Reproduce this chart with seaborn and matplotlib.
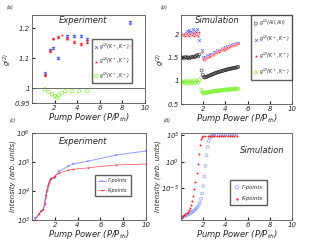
import numpy as np
import pandas as pd
import matplotlib
matplotlib.use("Agg")
import matplotlib.pyplot as plt
import seaborn as sns
from matplotlib.ticker import LogLocator, LogFormatterMathtext, NullLocator

# -- (a) experiment g2 --
exp_x = [1.16, 1.55, 1.85, 2.26, 3.1, 3.7, 4.3, 4.9, 8.7]
g2_mm = [1.049, 1.127, 1.134, 1.102, 1.174, 1.174, 1.174, 1.164, 1.221]
g2_pp = [1.045, 1.125, 1.166, 1.171, 1.166, 1.154, 1.149, 1.156, 1.141]
g2_err = [0.004, 0.004, 0.003, 0.003, 0.003, 0.003, 0.003, 0.004, 0.005]
g2_pp_x = [1.16, 1.55, 1.85, 2.26, 2.65, 3.1, 3.7, 4.3, 4.9, 8.7]
g2_pp_all = [1.045, 1.125, 1.166, 1.171, 1.179, 1.166, 1.154, 1.149, 1.156, 1.141]
g2_pm_x = [1.16, 1.45, 1.76, 2.05, 2.2, 2.35, 2.65, 2.95, 3.55, 4.15, 4.9]
g2_pm = [0.996, 0.988, 0.980, 0.973, 0.969, 0.977, 0.984, 0.990, 0.990, 0.990, 0.990]

# -- (b) simulation g2 --
sim_x = [0.05, 0.15, 0.25, 0.35, 0.45, 0.55, 0.65, 0.75, 0.85, 0.95,
         1.05, 1.15, 1.25, 1.35, 1.45, 1.55, 1.65,
         1.85, 1.95, 2.05, 2.15, 2.25, 2.35, 2.45, 2.55, 2.65, 2.75,
         2.85, 2.95, 3.05, 3.15, 3.25, 3.35, 3.45, 3.55, 3.65, 3.75,
         3.85, 3.95, 4.05, 4.15, 4.25, 4.35, 4.45, 4.55, 4.65, 4.75,
         4.85, 4.95, 5.05, 5.15]
sim_pp = [2.00, 1.98, 2.01, 1.97, 2.00, 2.02, 1.99, 1.96, 2.01, 1.98,
          2.03, 1.97, 2.00, 2.04, 1.99, 1.97, 2.05,
          1.62, 1.47, 1.44, 1.46, 1.48, 1.50, 1.52, 1.51, 1.54, 1.56,
          1.55, 1.58, 1.60, 1.59, 1.62, 1.63, 1.62, 1.65, 1.66, 1.68,
          1.67, 1.70, 1.69, 1.72, 1.71, 1.73, 1.75, 1.74, 1.76, 1.77,
          1.76, 1.78, 1.79, 1.80]
sim_mm = [1.99, 2.00, 1.98, 2.01, 2.02, 2.06, 2.03, 2.08, 2.05, 2.04,
          2.10, 2.03, 2.07, 2.05, 2.12, 2.02, 1.88,
          1.66, 1.50, 1.46, 1.49, 1.50, 1.53, 1.55, 1.53, 1.57, 1.58,
          1.57, 1.61, 1.62, 1.61, 1.65, 1.64, 1.64, 1.67, 1.68, 1.70,
          1.69, 1.72, 1.71, 1.74, 1.72, 1.75, 1.76, 1.76, 1.78, 1.78,
          1.77, 1.80, 1.80, 1.82]
sim_all = [1.49, 1.50, 1.48, 1.50, 1.51, 1.49, 1.50, 1.48, 1.50, 1.51,
           1.50, 1.52, 1.51, 1.53, 1.55, 1.52, 1.56,
           1.22, 1.12, 1.08, 1.07, 1.08, 1.09, 1.10, 1.11, 1.12, 1.13,
           1.14, 1.15, 1.16, 1.17, 1.18, 1.18, 1.19, 1.20, 1.21, 1.21,
           1.22, 1.23, 1.23, 1.24, 1.25, 1.25, 1.26, 1.26, 1.27, 1.27,
           1.28, 1.28, 1.29, 1.30]
sim_pm = [0.97, 0.95, 0.98, 0.96, 0.99, 0.94, 0.97, 1.00, 0.95, 0.98,
          0.96, 1.01, 0.95, 0.98, 1.00, 0.96, 1.02,
          0.80, 0.75, 0.73, 0.74, 0.74, 0.75, 0.75, 0.76, 0.76, 0.77,
          0.77, 0.77, 0.78, 0.78, 0.78, 0.79, 0.79, 0.79, 0.80, 0.80,
          0.80, 0.80, 0.81, 0.81, 0.81, 0.81, 0.82, 0.82, 0.82, 0.82,
          0.82, 0.83, 0.83, 0.83]

# -- (c) experiment intensity (log10) --
int_x = [0.3, 0.6, 0.8, 1.0, 1.1, 1.2, 1.3, 1.4, 1.5, 1.6, 1.7, 1.9, 2.0,
         2.4, 3.2, 3.6, 4.9, 7.4, 10.0]
int_gamma = [3.05, 3.2, 3.3, 3.35, 3.5, 3.75, 3.95, 4.1, 4.25, 4.35, 4.4,
             4.45, 4.5, 4.68, 4.86, 4.93, 5.03, 5.24, 5.38]
int_k = [3.0, 3.2, 3.3, 3.38, 3.6, 3.85, 4.05, 4.2, 4.3, 4.4, 4.45, 4.48,
         4.52, 4.62, 4.72, 4.75, 4.8, 4.9, 4.93]

# -- (d) simulation intensity (log10) --
simk_x = [0.0, 0.1, 0.2, 0.3, 0.4, 0.5, 0.6, 0.7, 0.8, 0.9, 1.0, 1.1, 1.2,
          1.3, 1.4, 1.5, 1.6, 1.7, 1.8, 1.9, 2.0, 2.2, 2.4, 2.6, 2.8, 3.0,
          3.2, 3.4, 3.6, 3.8, 4.0, 4.2, 4.4, 4.6, 4.8, 5.0]
simk_log = [-10.6, -10.4, -10.2, -10.0, -9.9, -9.7, -9.5, -9.2, -8.8, -8.2,
            -7.4, -6.4, -5.2, -3.8, -2.2, -0.4, 1.5, 3.2, 4.3, 4.7, 4.8,
            4.8, 4.8, 4.8, 4.8, 4.8, 4.8, 4.8, 4.8, 4.8, 4.8, 4.8, 4.8,
            4.8, 4.8, 4.8]
simg_x = [0.0, 0.1, 0.2, 0.3, 0.4, 0.5, 0.6, 0.7, 0.8, 0.9, 1.0, 1.1, 1.2,
          1.3, 1.4, 1.5, 1.6, 1.7, 1.8, 1.9, 2.0, 2.1, 2.2, 2.3, 2.4, 2.5,
          2.6, 2.7, 2.8, 2.9, 3.0, 3.2, 3.4, 3.6, 3.8, 4.0, 4.2, 4.4, 4.6,
          4.8, 5.0]
simg_log = [-10.8, -10.6, -10.4, -10.3, -10.2, -10.1, -10.0, -9.9, -9.8,
            -9.65, -9.5, -9.35, -9.2, -9.0, -8.8, -8.5, -8.2, -7.7, -7.0,
            -6.0, -4.6, -2.8, -0.8, 1.2, 2.8, 3.9, 4.5, 4.8, 4.9, 4.95,
            5.0, 5.02, 5.05, 5.07, 5.09, 5.1, 5.12, 5.13, 5.14, 5.15, 5.16]

BLUE = "#4f5bff"
LBLUE = "#8e9cff"
RED = "#ff1f1f"
GREEN = "#86f23a"

sns.set_style("ticks")
plt.rcParams.update({
    "font.family": ["DejaVu Sans"],
    "font.style": "italic",
    "font.size": 5,
    "xtick.direction": "in",
    "ytick.direction": "in",
    "xtick.major.size": 2,
    "ytick.major.size": 2,
    "xtick.labelsize": 5,
    "ytick.labelsize": 5,
    "axes.edgecolor": "#555555",
    "axes.linewidth": 0.6,
    "xtick.major.pad": 1.2,
    "ytick.major.pad": 1.2,
    "mathtext.default": "it",
})

fig = plt.figure(figsize=(3.11, 2.46), dpi=100)
ax_a = fig.add_axes([0.103, 0.581, 0.363, 0.358])
ax_b = fig.add_axes([0.582, 0.577, 0.357, 0.362])
ax_c = fig.add_axes([0.103, 0.106, 0.366, 0.353])
ax_d = fig.add_axes([0.582, 0.106, 0.357, 0.353])

xlab = "Pump Power (P/P$_{th}$)"
leg_kw = dict(frameon=True, fancybox=False, edgecolor="#333333", borderaxespad=0)

# (a)
ax_a.axhline(1.0, color="#555555", lw=0.6)
ax_a.errorbar(exp_x, g2_mm, yerr=g2_err, fmt="none", ecolor=BLUE, elinewidth=0.4, capsize=1.0)
ax_a.errorbar(exp_x, g2_pp, yerr=g2_err, fmt="none", ecolor=RED, elinewidth=0.4, capsize=1.0)
sns.scatterplot(x=exp_x, y=g2_mm, ax=ax_a, marker="x", color=BLUE, s=5, linewidth=0.5,
                label="$g^{(2)}(K^-,K^-)$")
sns.scatterplot(x=g2_pp_x, y=g2_pp_all, ax=ax_a, marker="*", color=RED, s=9, linewidth=0.2,
                label="$g^{(2)}(K^+,K^+)$")
sns.scatterplot(x=g2_pm_x, y=g2_pm, ax=ax_a, marker="o", facecolor="none", edgecolor=GREEN,
                s=7, linewidth=0.5, label="$g^{(2)}(K^+,K^-)$")
ax_a.set_xlim(0, 10)
ax_a.set_ylim(0.95, 1.245)
ax_a.set_xticks([2, 4, 6, 8, 10])
ax_a.set_yticks([0.95, 1.0, 1.1, 1.2])
ax_a.set_yticklabels(["0.95", "1", "1.1", "1.2"])
ax_a.set_xlabel(xlab, fontsize=6, labelpad=0.5)
ax_a.set_ylabel("$g^{(2)}$", fontsize=5, labelpad=0.5)
ax_a.text(4.5, 1.228, "Experiment", ha="center", va="center", fontsize=6)
ax_a.legend(loc="lower left", bbox_to_anchor=(0.53, 0.23), fontsize=3.3, borderpad=0.5,
            handletextpad=0.2, handlelength=0.9, labelspacing=0.9, **leg_kw)

# (b)
sns.scatterplot(x=sim_x, y=sim_all, ax=ax_b, marker="o", facecolor="none", edgecolor="#222222",
                s=5, linewidth=0.4, label="$g^{(2)}(All,All)$")
sns.scatterplot(x=sim_x, y=sim_mm, ax=ax_b, marker="x", color=BLUE, s=4, linewidth=0.5,
                label="$g^{(2)}(K^-,K^-)$")
sns.scatterplot(x=sim_x, y=sim_pp, ax=ax_b, marker="*", color=RED, s=8, linewidth=0.2,
                label="$g^{(2)}(K^+,K^+)$")
sns.scatterplot(x=sim_x, y=sim_pm, ax=ax_b, marker="D", facecolor="none", edgecolor=GREEN,
                s=4, linewidth=0.5, label="$g^{(2)}(K^+,K^-)$")
ax_b.set_xlim(0, 10)
ax_b.set_ylim(0.5, 2.41)
ax_b.set_xticks([2, 4, 6, 8, 10])
ax_b.set_yticks([0.5, 1, 1.5, 2])
ax_b.set_yticklabels(["0.5", "1", "1.5", "2"])
ax_b.set_xlabel(xlab, fontsize=6, labelpad=0.5)
ax_b.set_ylabel("$g^{(2)}$", fontsize=5, labelpad=0.5)
ax_b.text(3.3, 2.3, "Simulation", ha="center", va="center", fontsize=6)
ax_b.legend(loc="upper right", fontsize=3.3, borderpad=0.6, handletextpad=0.2,
            handlelength=0.9, labelspacing=1.3, **leg_kw)

# (c)
df_c = pd.DataFrame({"x": int_x, "g": np.power(10.0, int_gamma), "k": np.power(10.0, int_k)})
sns.lineplot(data=df_c, x="x", y="g", ax=ax_c, color=LBLUE, marker="s", markersize=1.6,
             markeredgewidth=0, lw=0.7, label="Γ-points")
sns.lineplot(data=df_c, x="x", y="k", ax=ax_c, color=RED, marker="*", markersize=2.2,
             markeredgewidth=0, lw=0.5, label="K-points", alpha=0.8)
ax_c.set_yscale("log")
ax_c.set_xlim(0, 10)
ax_c.set_ylim(1e3, 1e6)
ax_c.set_xticks([2, 4, 6, 8, 10])
ax_c.yaxis.set_major_locator(LogLocator(base=10, numticks=10))
ax_c.yaxis.set_major_formatter(LogFormatterMathtext())
ax_c.yaxis.set_minor_locator(NullLocator())
ax_c.set_xlabel(xlab, fontsize=6, labelpad=0)
ax_c.set_ylabel("Intensity (arb. units)", fontsize=5, labelpad=0.5)
ax_c.text(0.45, 0.9, "Experiment", transform=ax_c.transAxes, ha="center", va="center", fontsize=6)
ax_c.legend(loc="lower left", bbox_to_anchor=(0.55, 0.28), fontsize=3.5, borderpad=0.6,
            handletextpad=0.4, handlelength=1.8, labelspacing=0.9, **leg_kw)

# (d)
sns.scatterplot(x=simg_x, y=np.power(10.0, simg_log), ax=ax_d, marker="o", facecolor="none",
                edgecolor=LBLUE, s=4, linewidth=0.5, label="Γ-points")
sns.scatterplot(x=simk_x, y=np.power(10.0, simk_log), ax=ax_d, marker="o", color=RED,
                s=2, linewidth=0, label="K-points")
ax_d.set_yscale("log")
ax_d.set_xlim(0, 10)
ax_d.set_ylim(10 ** -11, 10 ** 5.4)
ax_d.set_xticks([2, 4, 6, 8, 10])
ax_d.set_yticks([1e-5, 1e0, 1e5])
ax_d.yaxis.set_major_formatter(LogFormatterMathtext())
ax_d.yaxis.set_minor_locator(NullLocator())
ax_d.set_xlabel(xlab, fontsize=6, labelpad=0)
ax_d.set_ylabel("Intensity (arb. units)", fontsize=5, labelpad=0.5)
ax_d.text(0.73, 0.8, "Simulation", transform=ax_d.transAxes, ha="center", va="center", fontsize=6)
ax_d.legend(loc="lower left", bbox_to_anchor=(0.44, 0.17), fontsize=3.8, borderpad=0.8,
            handletextpad=0.5, handlelength=1.0, labelspacing=1.2, markerscale=1.2, **leg_kw)

for lab, (xx, yy) in zip(["(a)", "(b)", "(c)", "(d)"],
                         [(0.02, 0.98), (0.515, 0.98), (0.03, 0.52), (0.525, 0.52)]):
    fig.text(xx, yy, lab, fontsize=3.5, va="top", ha="left")

fig.savefig("out.png", dpi=100)
